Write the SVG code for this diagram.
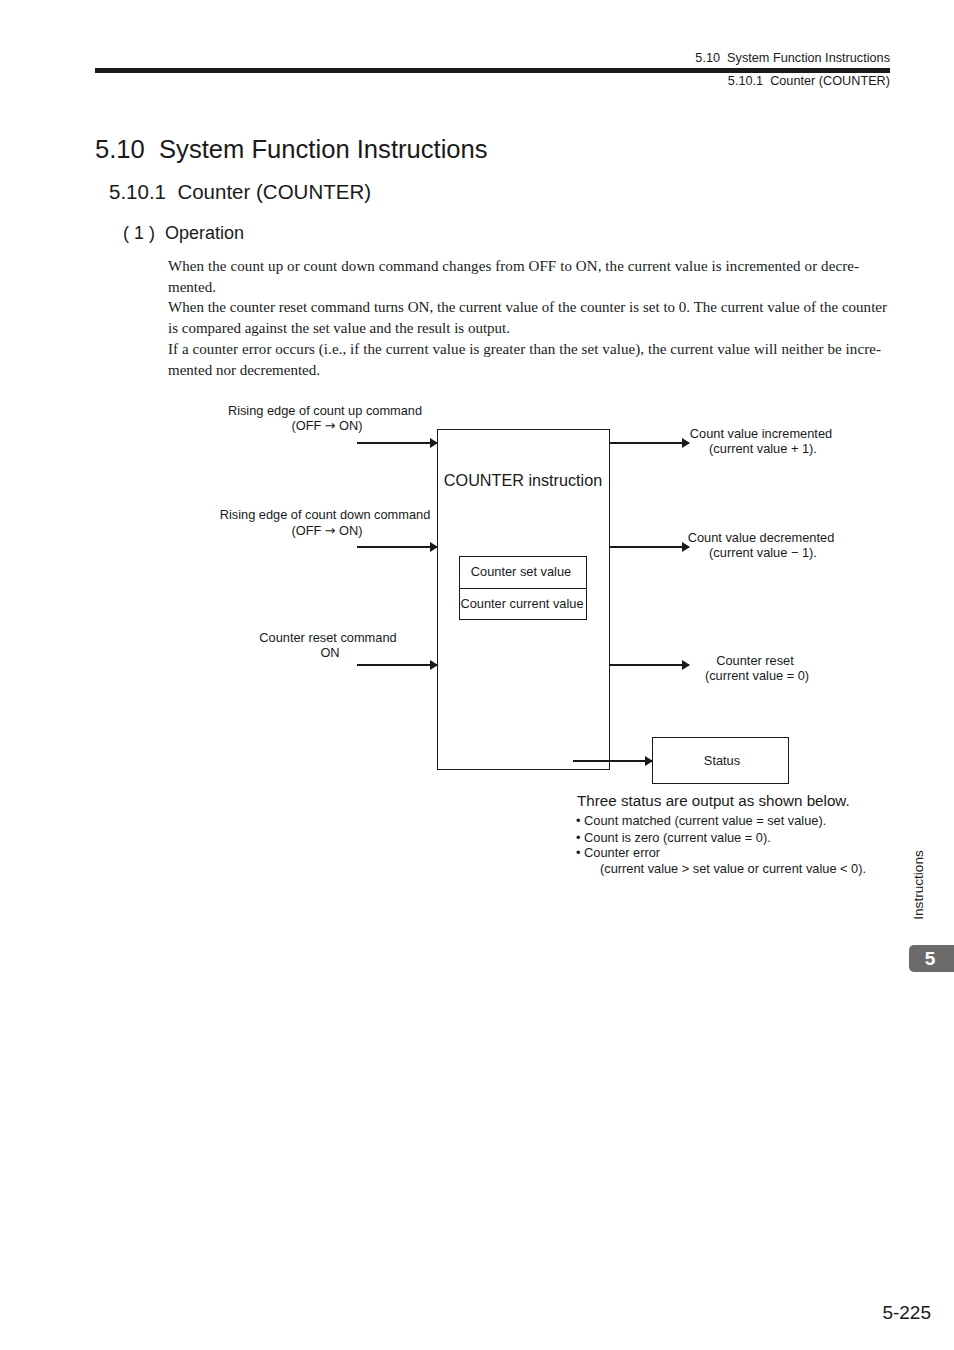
<svg xmlns="http://www.w3.org/2000/svg" width="954" height="1350" viewBox="0 0 954 1350">
<style>
.s{font-family:"Liberation Sans",Arial,sans-serif;fill:#1a1a1a;white-space:pre}
.t{font-family:"Liberation Serif","Times New Roman",serif;fill:#1a1a1a;font-size:15px}
.l{font-size:12.8px}
.m{text-anchor:middle}
.e{text-anchor:end}
.arw{font-family:"DejaVu Sans",sans-serif;font-size:12.8px}
.box{fill:none;stroke:#1a1a1a;stroke-width:1}
.ar{stroke:#1a1a1a;stroke-width:2;fill:none;marker-end:url(#ah)}
</style>
<defs>
<marker id="ah" markerWidth="8" markerHeight="10" refX="7" refY="5" orient="auto" markerUnits="userSpaceOnUse">
<path d="M0,0 L8,5 L0,10 Z" fill="#1a1a1a"/>
</marker>
</defs>
<rect width="954" height="1350" fill="#fff"/>
<g id="header">
<text class="s e" x="890" y="62" font-size="12.7" xml:space="preserve">5.10  System Function Instructions</text>
<rect x="95" y="68" width="795" height="5" fill="#1a1a1a"/>
<text class="s e" x="890" y="85" font-size="12.7" xml:space="preserve">5.10.1  Counter (COUNTER)</text>
</g>
<g id="titles">
<text class="s" x="95" y="158" font-size="25.6" xml:space="preserve">5.10  System Function Instructions</text>
<text class="s" x="109" y="199" font-size="20.5" xml:space="preserve">5.10.1  Counter (COUNTER)</text>
<text class="s" x="123" y="239" font-size="18" xml:space="preserve">( 1 )  Operation</text>
</g>
<g id="paragraph">
<text class="t" x="168" y="271" textLength="691" lengthAdjust="spacing">When the count up or count down command changes from OFF to ON, the current value is incremented or decre-</text>
<text class="t" x="168" y="292">mented.</text>
<text class="t" x="168" y="312" textLength="719" lengthAdjust="spacing">When the counter reset command turns ON, the current value of the counter is set to 0. The current value of the counter</text>
<text class="t" x="168" y="333">is compared against the set value and the result is output.</text>
<text class="t" x="168" y="354" textLength="713" lengthAdjust="spacing">If a counter error occurs (i.e., if the current value is greater than the set value), the current value will neither be incre-</text>
<text class="t" x="168" y="375">mented nor decremented.</text>
</g>
<g id="counter-box">
<rect class="box" x="437.5" y="429.5" width="172" height="340"/>
<text class="s m" x="523" y="486" font-size="16.2">COUNTER instruction</text>
</g>
<g id="values-box">
<rect class="box" x="459.5" y="556.5" width="127" height="63"/>
<line x1="459.5" y1="588.5" x2="586.5" y2="588.5" stroke="#1a1a1a" stroke-width="1"/>
<text class="s l m" x="521" y="576">Counter set value</text>
<text class="s l m" x="522" y="608">Counter current value</text>
</g>
<g id="status-box">
<rect class="box" x="652.5" y="737.5" width="136" height="46"/>
<text class="s l m" x="722" y="765">Status</text>
</g>
<g id="connectors">
<line class="ar" x1="357" y1="443" x2="437" y2="443"/>
<line class="ar" x1="357" y1="547" x2="437" y2="547"/>
<line class="ar" x1="357" y1="665" x2="437" y2="665"/>
<line class="ar" x1="609" y1="443" x2="689" y2="443"/>
<line class="ar" x1="609" y1="547" x2="689" y2="547"/>
<line class="ar" x1="609" y1="665" x2="689" y2="665"/>
<line class="ar" x1="573" y1="761" x2="652" y2="761"/>
</g>
<g id="input-labels">
<text class="s l m" x="325" y="415">Rising edge of count up command</text>
<text class="s l m" x="327" y="430" xml:space="preserve">(OFF <tspan class="arw">→</tspan> ON)</text>
<text class="s l m" x="325" y="519">Rising edge of count down command</text>
<text class="s l m" x="327" y="535" xml:space="preserve">(OFF <tspan class="arw">→</tspan> ON)</text>
<text class="s l m" x="328" y="642">Counter reset command</text>
<text class="s l m" x="330" y="657">ON</text>
</g>
<g id="output-labels">
<text class="s l m" x="761" y="438">Count value incremented</text>
<text class="s l m" x="763" y="453">(current value + 1).</text>
<text class="s l m" x="761" y="542">Count value decremented</text>
<text class="s l m" x="763" y="557">(current value − 1).</text>
<text class="s l m" x="755" y="665">Counter reset</text>
<text class="s l m" x="757" y="680">(current value = 0)</text>
</g>
<g id="status-notes">
<text class="s" x="577" y="806" font-size="15.2">Three status are output as shown below.</text>
<text class="s l" x="576" y="825">• Count matched (current value = set value).</text>
<text class="s l" x="576" y="842">• Count is zero (current value = 0).</text>
<text class="s l" x="576" y="857">• Counter error</text>
<text class="s l" x="600" y="873">(current value &gt; set value or current value &lt; 0).</text>
</g>
<g id="side-tab">
<text class="s m" font-size="13.6" transform="translate(923,885) rotate(-90)" fill="#333">Instructions</text>
<rect x="909" y="945" width="50" height="27" rx="5" fill="#6b6b6b"/>
<text class="m" x="930" y="965" font-family="Liberation Sans,Arial,sans-serif" font-size="19" font-weight="bold" fill="#fff">5</text>
</g>
<g id="footer">
<text class="s e" x="931" y="1319" font-size="19">5-225</text>
</g>
</svg>
